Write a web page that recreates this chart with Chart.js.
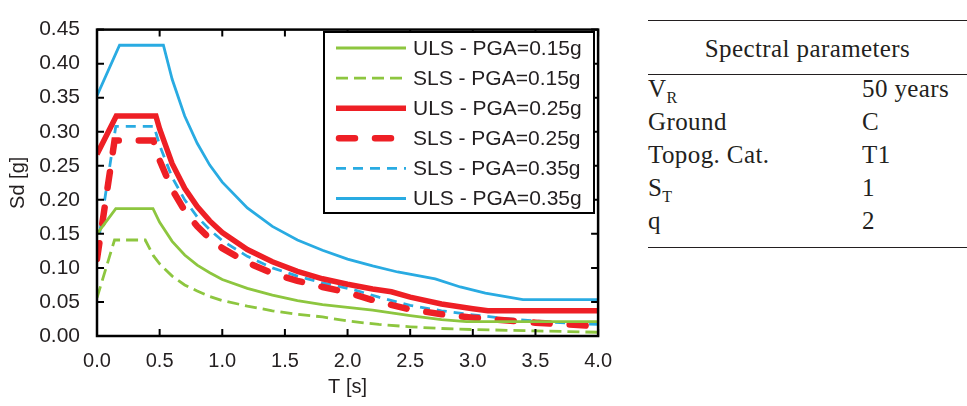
<!DOCTYPE html>
<html>
<head>
<meta charset="utf-8">
<script src="https://cdn.jsdelivr.net/npm/chart.js@4.4.0/dist/chart.umd.min.js"></script>
<style>
  body { margin: 0; background: #fff; width: 967px; height: 406px; overflow: hidden; position: relative; }
  #wrap { position: absolute; left: 0; top: 0; width: 625px; height: 406px; }
  #tbl { position: absolute; left: 648px; top: 0; width: 319px; height: 406px;
         font-family: "Liberation Serif", "Times New Roman", serif; font-size: 25px; color: #231f20;
         letter-spacing: 0.4px; }
  .rule { position: absolute; left: 0; width: 319px; height: 0; border-top: 1.5px solid #231f20; }
  .t { position: absolute; line-height: 25px; white-space: nowrap; }
  .sub { font-size: 16px; position: relative; top: 6px; }
</style>
</head>
<body>
<div id="wrap"><canvas id="chart"></canvas></div>

<div id="tbl">
  <div class="rule" style="top:20px"></div>
  <div class="t" style="top:36px;left:0;width:319px;text-align:center">Spectral parameters</div>
  <div class="rule" style="top:74px"></div>
  <div class="t" style="top:76px;left:0">V<span class="sub">R</span></div>
  <div class="t" style="top:76px;left:214px">50 years</div>
  <div class="t" style="top:109px;left:0">Ground</div>
  <div class="t" style="top:109px;left:214px">C</div>
  <div class="t" style="top:142px;left:0">Topog. Cat.</div>
  <div class="t" style="top:142px;left:214px">T1</div>
  <div class="t" style="top:175px;left:0">S<span class="sub">T</span></div>
  <div class="t" style="top:175px;left:214px">1</div>
  <div class="t" style="top:208px;left:0">q</div>
  <div class="t" style="top:208px;left:214px">2</div>
  <div class="rule" style="top:247px"></div>
</div>

<script>
// period T [s] and design spectrum Sd [g]
const tUls015 = [0, 0.15, 0.447, 0.5, 0.6, 0.7, 0.8, 0.9, 1.0, 1.2, 1.4, 1.6, 1.8, 2.0, 2.2, 2.5, 2.75, 2.95, 4.0];
const sdUls015 = [0.150, 0.187, 0.187, 0.167, 0.139, 0.119, 0.104, 0.093, 0.083, 0.070, 0.060, 0.052, 0.046, 0.042, 0.038, 0.030, 0.024, 0.021, 0.021];

const tSls015 = [0, 0.14, 0.385, 0.45, 0.5, 0.6, 0.7, 0.8, 0.9, 1.0, 1.2, 1.4, 1.6, 1.8, 2.0, 2.25, 2.5, 2.75, 3.0, 3.5, 4.0];
const sdSls015 = [0.056, 0.141, 0.141, 0.118, 0.106, 0.088, 0.075, 0.066, 0.058, 0.052, 0.044, 0.037, 0.032, 0.028, 0.022, 0.017, 0.0135, 0.011, 0.0095, 0.0075, 0.0055];

const tUls025 = [0, 0.154, 0.47, 0.5, 0.6, 0.7, 0.8, 0.9, 1.0, 1.2, 1.4, 1.6, 1.8, 2.0, 2.2, 2.35, 2.5, 2.75, 3.0, 3.12, 4.0];
const sdUls025 = [0.267, 0.323, 0.323, 0.304, 0.253, 0.217, 0.190, 0.169, 0.152, 0.127, 0.109, 0.095, 0.084, 0.076, 0.069, 0.065, 0.057, 0.047, 0.040, 0.037, 0.037];

const tSls025 = [0, 0.14, 0.45, 0.5, 0.6, 0.7, 0.8, 0.9, 1.0, 1.2, 1.4, 1.6, 1.8, 2.0, 2.25, 2.5, 2.75, 3.0, 3.25, 3.5, 3.75, 4.0];
const sdSls025 = [0.113, 0.287, 0.287, 0.258, 0.215, 0.184, 0.161, 0.143, 0.129, 0.108, 0.092, 0.081, 0.072, 0.064, 0.050, 0.039, 0.032, 0.027, 0.023, 0.0195, 0.017, 0.0145];

const tSls035 = [0, 0.15, 0.455, 0.5, 0.6, 0.7, 0.8, 0.9, 1.0, 1.2, 1.4, 1.6, 1.8, 2.05, 2.25, 2.5, 2.75, 3.0, 3.25, 3.5, 3.75, 4.0];
const sdSls035 = [0.125, 0.308, 0.308, 0.280, 0.233, 0.200, 0.175, 0.156, 0.140, 0.117, 0.100, 0.088, 0.078, 0.068, 0.057, 0.045, 0.037, 0.031, 0.026, 0.022, 0.019, 0.017];

const tUls035 = [0, 0.18, 0.53, 0.6, 0.7, 0.8, 0.9, 1.0, 1.2, 1.4, 1.6, 1.8, 2.0, 2.2, 2.4, 2.7, 2.9, 3.1, 3.4, 4.0];
const sdUls035 = [0.353, 0.427, 0.427, 0.377, 0.323, 0.283, 0.251, 0.226, 0.188, 0.161, 0.141, 0.126, 0.113, 0.103, 0.094, 0.084, 0.072, 0.063, 0.0535, 0.0535];

const seriesNames = ['ULS - PGA=0.15g', 'SLS - PGA=0.15g', 'ULS - PGA=0.25g', 'SLS - PGA=0.25g', 'SLS - PGA=0.35g', 'ULS - PGA=0.35g'];
const xTicks = [0, 4, 0.5];      // min, max, step
const yTicks = [0, 0.45, 0.05];

const GREEN = '#8dc63f', RED = '#ee1f25', BLUE = '#29abe2';
const SANS = '"Liberation Sans", Arial, sans-serif';

function pts(t, sd) { return t.map((v, i) => ({ x: v, y: sd[i] })); }

function line(label, t, sd, color, width, dash, cap) {
  return {
    label: label, data: pts(t, sd),
    borderColor: color, backgroundColor: color,
    borderWidth: width, borderDash: dash || [], borderCapStyle: cap || 'butt',
    pointRadius: 0, tension: 0, fill: false
  };
}

const datasets = [
  line(seriesNames[0], tUls015, sdUls015, GREEN, 2.8),
  line(seriesNames[1], tSls015, sdSls015, GREEN, 2.8, [12, 6]),
  line(seriesNames[2], tUls025, sdUls025, RED, 5.5),
  line(seriesNames[3], tSls025, sdSls025, RED, 6.5, [16, 20], 'round'),
  line(seriesNames[4], tSls035, sdSls035, BLUE, 2.8, [10, 7]),
  line(seriesNames[5], tUls035, sdUls035, BLUE, 2.8)
];

// frame, inward ticks on all four sides, and the boxed legend inside the plot
const framePlugin = {
  id: 'frame',
  afterDraw(chart) {
    const { ctx, chartArea: a, scales: { x, y } } = chart;
    ctx.save();
    ctx.strokeStyle = '#000';
    ctx.lineWidth = 2;
    ctx.beginPath();
    x.ticks.forEach(tk => {
      const px = x.getPixelForValue(tk.value);
      ctx.moveTo(px, a.bottom); ctx.lineTo(px, a.bottom - 7);
      ctx.moveTo(px, a.top); ctx.lineTo(px, a.top + 7);
    });
    y.ticks.forEach(tk => {
      const py = y.getPixelForValue(tk.value);
      ctx.moveTo(a.left, py); ctx.lineTo(a.left + 7, py);
      ctx.moveTo(a.right, py); ctx.lineTo(a.right - 7, py);
    });
    ctx.stroke();
    ctx.lineWidth = 2.5;
    ctx.strokeRect(a.left, a.top, a.right - a.left, a.bottom - a.top);

    // legend
    const bx = 324, by = 32, bw = 270, bh = 181;
    ctx.fillStyle = '#fff';
    ctx.fillRect(bx, by, bw, bh);
    ctx.lineWidth = 2;
    ctx.strokeRect(bx, by, bw, bh);
    ctx.font = '21px ' + SANS;
    ctx.textBaseline = 'middle';
    chart.data.datasets.forEach((ds, i) => {
      const ly = 48 + i * 30.1;
      ctx.save();
      ctx.strokeStyle = ds.borderColor;
      ctx.lineWidth = ds.borderWidth;
      ctx.setLineDash(ds.borderDash);
      ctx.lineCap = ds.borderCapStyle;
      ctx.beginPath();
      const x0 = ds.borderCapStyle === 'round' ? 339 : 336;
      const x1 = ds.borderCapStyle === 'round' ? 392 : 406;
      ctx.moveTo(x0, ly); ctx.lineTo(x1, ly);
      ctx.stroke();
      ctx.restore();
      ctx.fillStyle = '#231f20';
      ctx.fillText(ds.label, 413, ly + 1);
    });
    ctx.restore();
  }
};

new Chart(document.getElementById('chart'), {
  type: 'line',
  data: { datasets: datasets },
  options: {
    responsive: true,
    maintainAspectRatio: false,
    animation: false,
    layout: { padding: { left: 0, right: 17, top: 19, bottom: 0 } },
    plugins: { legend: { display: false }, tooltip: { enabled: false } },
    scales: {
      x: {
        type: 'linear', min: xTicks[0], max: xTicks[1],
        ticks: { stepSize: xTicks[2], padding: 13, color: '#231f20', font: { family: SANS, size: 20 },
                 callback: v => v.toFixed(1) },
        grid: { display: false, drawTicks: false },
        border: { display: false },
        title: { display: true, text: 'T [s]', color: '#231f20', font: { family: SANS, size: 20 },
                 padding: { top: 0, bottom: 7 } },
        afterFit: s => { s.height = 70; }
      },
      y: {
        type: 'linear', min: yTicks[0], max: yTicks[1],
        ticks: { stepSize: yTicks[2], padding: 17, color: '#231f20', font: { family: SANS, size: 21 },
                 callback: v => v.toFixed(2) },
        grid: { display: false, drawTicks: false },
        border: { display: false },
        title: { display: true, text: 'Sd [g]', color: '#231f20', font: { family: SANS, size: 20 },
                 padding: { top: 6, bottom: 0 } },
        afterFit: s => { s.width = 97; }
      }
    }
  },
  plugins: [framePlugin]
});
</script>
</body>
</html>
